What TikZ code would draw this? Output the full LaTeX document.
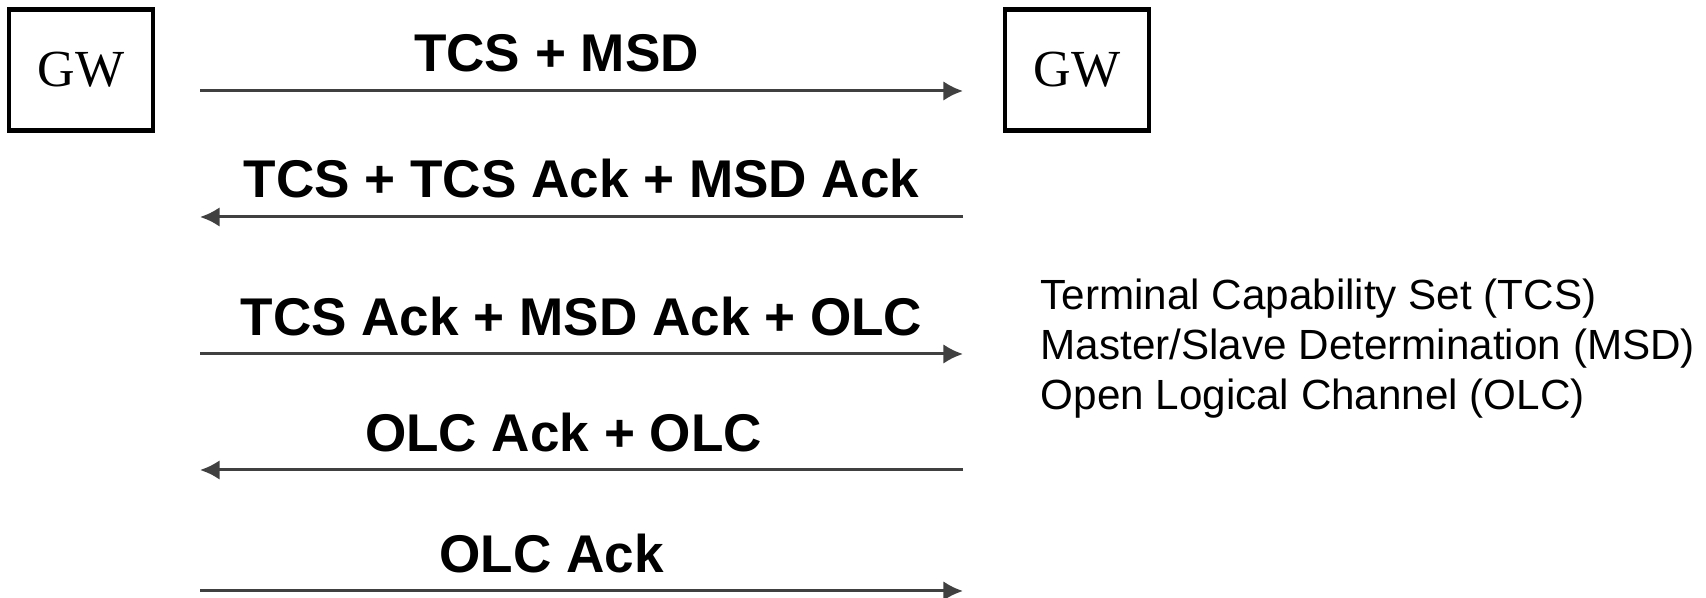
\documentclass[tikz,border=0pt]{standalone}
\usepackage{fontspec}
\setmainfont{Liberation Serif}
\setsansfont{Liberation Sans}
\usetikzlibrary{arrows.meta}

\tikzset{
  gwbox/.style={draw, line width=1.35pt, minimum width=1.44cm, minimum height=1.21cm,
    inner sep=0pt, font=\fontsize{14.8}{16}\selectfont},
  msg/.style={line width=0.85pt, draw=black!75, -{Latex[length=5.6pt,width=5.6pt]}},
  msglabel/.style={anchor=base, yshift=5.4pt, font=\sffamily\bfseries\fontsize{15.1}{17}\selectfont},
  legend/.style={anchor=base west, inner sep=0pt, font=\sffamily\fontsize{12}{14}\selectfont},
}

\begin{document}
\begin{tikzpicture}[x=0.01cm, y=-0.01cm]
			\useasboundingbox (0,0) rectangle (1706,598);
			\node[gwbox] (gwL) at (81,70) {GW};
			\node[gwbox] (gwR) at (1077,70) {GW};
			% message ends
			\coordinate (l1) at (200,91);  \coordinate (r1) at (963,91);
			\coordinate (l2) at (200,217); \coordinate (r2) at (963,217);
			\coordinate (l3) at (200,354); \coordinate (r3) at (963,354);
			\coordinate (l4) at (200,470); \coordinate (r4) at (963,470);
			\coordinate (l5) at (200,591); \coordinate (r5) at (963,591);
			% messages
			\draw[msg] (l1) -- node[msglabel, xshift=-0.25cm] (m1) {TCS + MSD} (r1);
			\draw[msg] (r2) -- node[msglabel] (m2) {TCS + TCS Ack + MSD Ack} (l2);
			\draw[msg] (l3) -- node[msglabel] (m3) {TCS Ack + MSD Ack + OLC} (r3);
			\draw[msg] (r4) -- node[msglabel, xshift=-0.18cm] (m4) {OLC Ack + OLC} (l4);
			\draw[msg] (l5) -- node[msglabel, xshift=-0.3cm] (m5) {OLC Ack} (r5);
			% legend
			\node[legend] (leg1) at (1040,310) {Terminal Capability Set (TCS)};
			\node[legend] (leg2) at (1040,360) {Master/Slave Determination (MSD)};
			\node[legend] (leg3) at (1040,410) {Open Logical Channel (OLC)};
\end{tikzpicture}
\end{document}
